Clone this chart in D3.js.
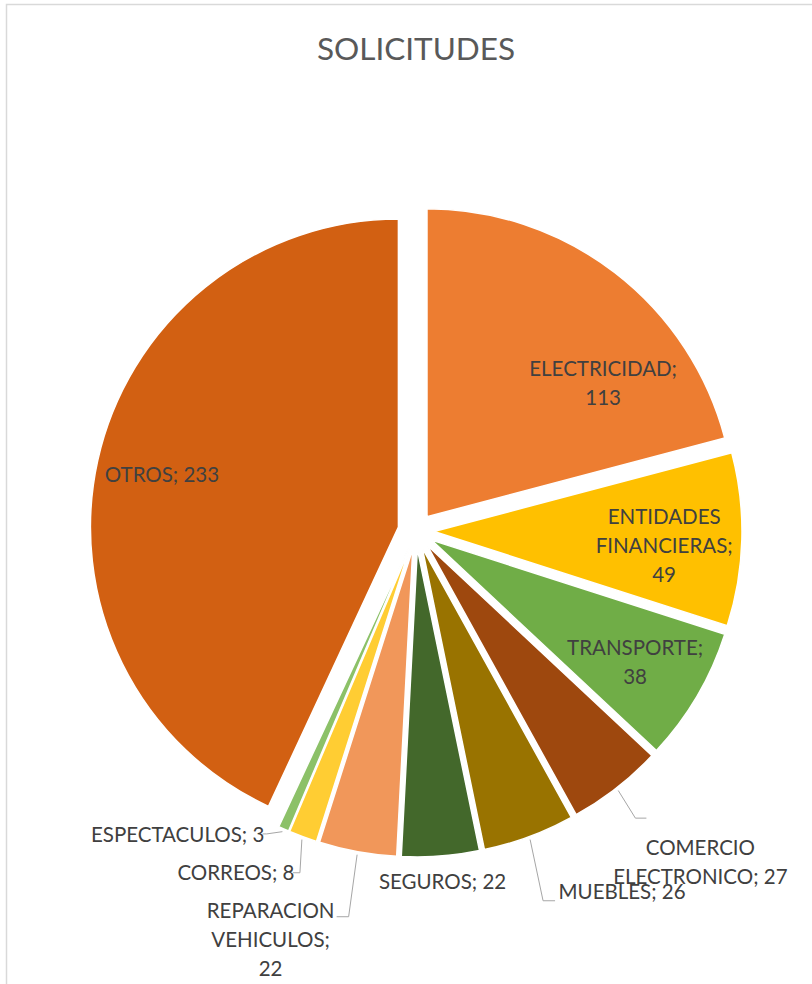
<!DOCTYPE html>
<html>
<head>
<meta charset="utf-8">
<script src="https://cdn.jsdelivr.net/npm/d3@7"></script>
<style>
  body { margin: 0; background: #fff; }
</style>
</head>
<body>
<div id="chart"></div>
<script>
// ======= data
var categories = ["ELECTRICIDAD", "ENTIDADES FINANCIERAS", "TRANSPORTE", "COMERCIO ELECTRONICO",
  "MUEBLES", "SEGUROS", "REPARACION VEHICULOS", "CORREOS", "ESPECTACULOS", "OTROS"];
var values = [113, 49, 38, 27, 26, 22, 22, 8, 3, 233];
var colors = ["#ED7D31", "#FFC000", "#70AD47", "#9E480E", "#997300",
  "#43682B", "#F1975A", "#FFCD33", "#8CC168", "#D26012"];

// ======= label layout (inside or outside, shift from base point, wrap width)
var labelInside = [true, true, true, false, false, false, false, false, false, true];
var labelShift = [[54, 25], [30, 9], [31, 21], [84, 74], [93, 55], [2, 26], [-87, 88], [-67, 36], [-106, 6], [-41, -9]];
var labelWrap = [150, 150, 150, 200, 300, 300, 125, 300, 300, 300];
// leader: [end dx, end dy from label centre, elbow length]; null = no leader
var leaders = [null, null, null, [-54, -44, -11], [-67, 9, -12], null, [66, -23, 12], [57, 0, 7], [85, -1, 4], null];

var W = 812, H = 984;
var cx = 416, cy = 531, R = 308, explode = 18;
var fontSize = 20.5, lineH = 29;
var fontFam = "Lato, 'Open Sans', sans-serif";

var svg = d3.select("#chart").append("svg")
  .attr("width", W)
  .attr("height", H);

// ======= chart border
svg.append("rect")
  .attr("x", 6.5).attr("y", 4.5)
  .attr("width", W + 50).attr("height", H + 50)
  .attr("fill", "#fff")
  .attr("stroke", "#D9D9D9")
  .attr("stroke-width", 1.5);

svg.append("text")
  .text("SOLICITUDES")
  .attr("x", cx).attr("y", 60)
  .attr("text-anchor", "middle")
  .attr("font-family", fontFam)
  .attr("font-size", "31.5px")
  .attr("fill", "#595959");

var pie = d3.pie().sort(null).value(function(d) { return d; });
var arcs = pie(values);
var arc = d3.arc().innerRadius(0).outerRadius(R);

function midAngle(a) { return (a.startAngle + a.endAngle) / 2; }
function origin(a) {
  var m = midAngle(a);
  return [cx + explode * Math.sin(m), cy - explode * Math.cos(m)];
}

var g = svg.append("g");

// ======= slices
g.selectAll("path")
  .data(arcs)
  .enter()
  .append("path")
  .attr("d", arc)
  .attr("transform", function(a) { var o = origin(a); return "translate(" + o[0] + "," + o[1] + ")"; })
  .attr("fill", function(a, j) { return colors[j]; })
  .attr("stroke", "#fff")
  .attr("stroke-width", 1.5);

// ======= label centres
function labelCenter(a, j) {
  var o = origin(a), m = midAngle(a);
  var r = labelInside[j] ? R * 0.65 : R;
  return [o[0] + r * Math.sin(m) + labelShift[j][0], o[1] - r * Math.cos(m) + labelShift[j][1]];
}

// ======= leader lines
arcs.forEach(function(a, j) {
  if (!leaders[j]) return;
  var o = origin(a), m = midAngle(a);
  var start = [o[0] + (R + 3) * Math.sin(m), o[1] - (R + 3) * Math.cos(m)];
  var c = labelCenter(a, j);
  var end = [c[0] + leaders[j][0], c[1] + leaders[j][1]];
  var elbow = [end[0] + leaders[j][2], end[1]];
  svg.append("path")
    .attr("d", d3.line()([start, elbow, end]))
    .attr("fill", "none")
    .attr("stroke", "#A6A6A6")
    .attr("stroke-width", 1);
});

// ======= labels (greedy wrap on measured width)
var measure = svg.append("text")
  .attr("font-family", fontFam)
  .attr("font-size", fontSize + "px")
  .attr("visibility", "hidden");
function textW(s) { measure.text(s); return measure.node().getComputedTextLength(); }

arcs.forEach(function(a, j) {
  var words = (categories[j] + "; " + values[j]).split(" ");
  var lines = [], cur = "";
  words.forEach(function(w) {
    var test = cur ? cur + " " + w : w;
    if (cur && textW(test) > labelWrap[j]) { lines.push(cur); cur = w; }
    else cur = test;
  });
  lines.push(cur);

  var c = labelCenter(a, j);
  var t = svg.append("text")
    .attr("text-anchor", "middle")
    .attr("font-family", fontFam)
    .attr("font-size", fontSize + "px")
    .attr("fill", "#404040");
  lines.forEach(function(s, k) {
    t.append("tspan")
      .attr("x", c[0])
      .attr("y", c[1] + (k - (lines.length - 1) / 2) * lineH + fontSize * 0.35)
      .text(s);
  });
});
measure.remove();
</script>
</body>
</html>
